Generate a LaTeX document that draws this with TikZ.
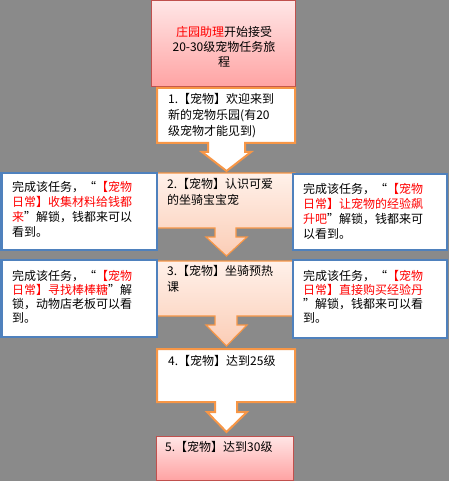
\documentclass[tikz,border=0pt]{standalone}
\usepackage{fontspec}
\setmainfont{Noto Sans CJK SC}
\definecolor{bg}{HTML}{8A8A8A}
\definecolor{redb}{HTML}{C0504D}
\definecolor{orb}{HTML}{F79646}
\definecolor{blb}{HTML}{4F81BD}
\definecolor{rtxt}{HTML}{FF0000}
\definecolor{pinkT}{HTML}{FFE6E6}
\definecolor{pinkB}{HTML}{FFA3A3}
\definecolor{peachT}{HTML}{FFF1EA}
\definecolor{peachB}{HTML}{FBCDB6}
\newcommand{\rt}[1]{\textcolor{rtxt}{#1}}
\begin{document}
\begin{tikzpicture}[x=1pt,y=-1pt,
  redbox/.style={draw=redb, line width=1pt, top color=pinkT, bottom color=pinkB},
  whitecall/.style={draw=orb, line width=2pt, fill=white, line join=miter},
  peachcall/.style={draw=orb, line width=1.2pt, top color=peachT, bottom color=peachB},
  sidebox/.style={draw=blb, line width=2.5pt, fill=white},
  ctxt/.style={anchor=north west, inner sep=0pt, align=left, font=\fontsize{12}{16}\selectfont},
  stxt/.style={anchor=north west, inner sep=0pt, align=left, font=\fontsize{12}{15}\selectfont},
  stxtb/.style={anchor=north west, inner sep=0pt, align=left, font=\fontsize{12}{14}\selectfont}]
\fill[bg] (0,0) rectangle (449,481);
\useasboundingbox (0,0) rectangle (449,481);

% top box
\draw[redbox] (151,1) rectangle (295,87);
\node[inner sep=0pt, align=center, font=\fontsize{12}{15}\selectfont] (t0) at (224,47)
  {\rt{庄园助理}开始接受\\20-30级宠物任务旅\\程};

% box 1
\draw[whitecall] (157,88) -- (295,88) -- (295,143) -- (245,143) -- (245,152) -- (251,152)
  -- (226.5,171) -- (202,152) -- (208,152) -- (208,143) -- (157,143) -- cycle;
\node[ctxt] (t1) at (168,93.5) {1.【宠物】欢迎来到\\新的宠物乐园(有20\\级宠物才能见到)};

% box 2
\draw[peachcall] (157,173) -- (295,173) -- (295,228) -- (236,228) -- (236,237) -- (247,237)
  -- (226.5,256) -- (206,237) -- (215,237) -- (215,228) -- (157,228) -- cycle;
\node[ctxt] (t2) at (167,178.5) {2.【宠物】认识可爱\\的坐骑宝宝宠};

% box 3
\draw[peachcall] (157,261) -- (295,261) -- (295,316) -- (237,316) -- (237,325) -- (247,325)
  -- (226.5,346) -- (206,325) -- (215,325) -- (215,316) -- (157,316) -- cycle;
\node[ctxt] (t3) at (167,265.5) {3.【宠物】坐骑预热\\课};

% box 4
\draw[whitecall] (157,349) -- (295,349) -- (295,402) -- (237,402) -- (237,412) -- (247,412)
  -- (226.5,432) -- (207,412) -- (215,412) -- (215,402) -- (157,402) -- cycle;
\node[ctxt] (t4) at (168,355.5) {4.【宠物】达到25级};

% box 5
\draw[redbox] (156,436) rectangle (293,480);
\node[ctxt] (t5) at (165,441.5) {5.【宠物】达到30级};

% side boxes
\draw[sidebox] (1.5,173) rectangle (157,250);
\node[stxt] (l1) at (12,181.5) {完成该任务，“\rt{【宠物}\\\rt{日常】收集材料给钱都}\\\rt{来}”解锁，钱都来可以\\看到。};

\draw[sidebox] (293,174) rectangle (447,250);
\node[stxt] (r1) at (303,183.5) {完成该任务，“\rt{【宠物}\\\rt{日常】让宠物的经验飙}\\\rt{升吧}”解锁，钱都来可\\以看到。};

\draw[sidebox] (1.5,260) rectangle (157,337);
\node[stxtb] (l2) at (12,270) {完成该任务，“\rt{【宠物}\\\rt{日常】寻找棒棒糖}”解\\锁，动物店老板可以看\\到。};

\draw[sidebox] (293,260) rectangle (447,338);
\node[stxtb] (r2) at (303,270) {完成该任务，“\rt{【宠物}\\\rt{日常】直接购买经验丹}\\”解锁，钱都来可以看\\到。};
\end{tikzpicture}
\end{document}
